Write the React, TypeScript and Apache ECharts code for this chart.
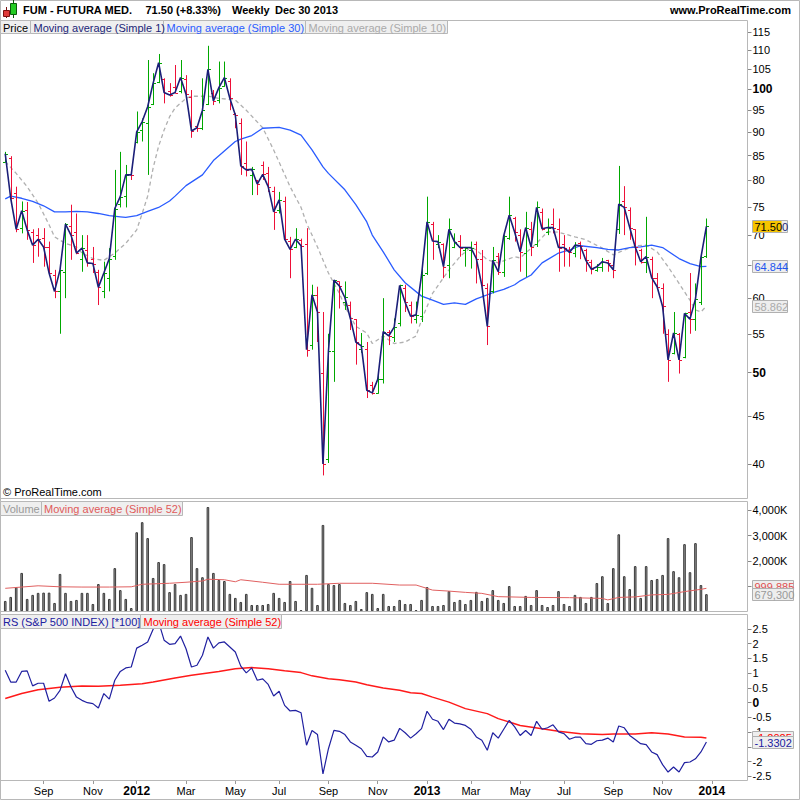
import React, { useEffect, useRef } from "react";
import * as echarts from "echarts";

const FONT = '"Liberation Sans", Arial, sans-serif';

// Weekly categories (Mondays) starting from the first visible bar
const FIRST_WEEK_UTC = Date.UTC(2011, 6, 18);
const WEEK_COUNT = 136;

const OPEN = [
  83.8, 84.5, 77.5, 71.2, 74.5, 70.5, 70.0, 69.5, 68.0, 63.5,
  61.0, 64.0, 71.5, 70.5, 66.0, 67.5, 66.0, 64.0, 61.0, 63.0,
  66.5, 75.5, 77.0, 81.3, 88.0, 90.5, 92.0, 96.5, 101.8, 102.5,
  99.5, 100.5, 99.5, 102.5, 98.0, 91.5, 91.0, 96.5, 99.0, 97.5,
  100.8, 102.0, 94.2, 92.0, 83.5, 81.0, 80.0, 83.0, 81.5, 78.0,
  74.5, 76.0, 69.0, 68.0, 69.2, 68.5, 53.5, 60.5, 50.0, 40.5,
  52.7, 62.5, 59.5, 59.0, 57.0, 53.0, 53.0, 48.5, 47.6, 49.2,
  55.2, 54.5, 56.5, 61.5, 59.0, 57.0, 57.5, 63.8, 72.0, 68.5,
  68.5, 65.0, 68.0, 69.0, 67.5, 67.5, 68.5, 66.0, 61.5, 61.0,
  66.5, 64.0, 69.5, 73.0, 70.0, 67.0, 71.0, 68.5, 74.0, 70.5,
  72.0, 71.0, 68.5, 67.5, 67.0, 68.6, 67.5, 65.5, 64.2, 64.8,
  65.8, 65.0, 71.0, 76.0, 74.5, 71.0, 67.5, 65.5, 66.0, 63.0,
  61.5, 55.0, 52.5, 55.0, 52.0, 58.0, 57.0, 59.5, 66.5,
];
const HIGH = [
  85.8, 84.9, 78.8, 76.0, 75.9, 71.0, 71.2, 71.2, 68.9, 64.3,
  64.3, 72.1, 75.4, 73.8, 70.0, 70.0, 68.0, 64.3, 65.6, 67.8,
  82.1, 85.8, 83.1, 81.7, 94.7, 93.1, 107.4, 104.0, 109.0, 102.7,
  101.5, 106.1, 107.4, 103.5, 99.8, 91.5, 102.7, 111.2, 99.8, 107.0,
  107.0, 102.7, 94.3, 93.1, 88.0, 82.7, 80.1, 83.8, 82.7, 78.8,
  77.8, 76.9, 69.7, 71.2, 69.4, 71.2, 62.0, 61.7, 58.0, 55.0,
  62.7, 62.5, 62.5, 59.5, 57.0, 55.1, 53.9, 48.9, 49.9, 60.0,
  55.5, 57.1, 62.0, 62.0, 59.5, 59.5, 65.3, 76.9, 72.3, 70.0,
  68.6, 72.9, 70.3, 70.0, 68.0, 68.9, 68.9, 67.5, 62.2, 68.0,
  67.0, 70.0, 76.9, 73.2, 71.0, 74.1, 72.3, 76.0, 74.7, 72.9,
  74.7, 72.9, 70.0, 68.0, 68.8, 68.9, 67.7, 65.9, 65.2, 66.2,
  65.9, 65.6, 82.9, 78.9, 74.9, 71.0, 67.7, 73.2, 66.4, 63.8,
  62.2, 55.6, 58.0, 55.1, 57.9, 63.8, 62.2, 66.6, 72.9,
];
const LOW = [
  83.6, 76.4, 70.5, 70.3, 69.2, 65.4, 66.4, 64.8, 63.5, 60.0,
  55.0, 60.0, 65.9, 66.8, 64.0, 64.8, 63.8, 59.0, 60.0, 61.0,
  65.9, 74.9, 74.9, 80.1, 87.6, 88.0, 81.1, 96.2, 101.5, 96.6,
  98.2, 99.0, 99.0, 97.8, 88.8, 90.1, 90.5, 96.2, 96.2, 96.6,
  100.6, 95.0, 90.9, 81.1, 80.8, 77.2, 77.2, 80.1, 77.8, 70.9,
  73.8, 68.9, 63.0, 67.8, 66.1, 52.0, 52.9, 53.9, 38.9, 40.1,
  48.9, 58.5, 58.3, 55.5, 51.0, 52.5, 47.0, 47.4, 47.5, 48.7,
  53.5, 53.9, 56.0, 58.0, 56.4, 56.4, 56.6, 63.5, 65.9, 67.8,
  63.0, 63.0, 67.8, 66.4, 64.8, 64.5, 62.2, 61.7, 53.5, 60.7,
  63.5, 63.2, 69.2, 68.9, 64.0, 63.2, 66.5, 68.0, 70.8, 70.0,
  70.3, 64.0, 64.8, 64.8, 66.3, 66.0, 64.0, 63.6, 64.0, 64.0,
  64.0, 63.0, 70.2, 70.0, 69.2, 65.0, 65.3, 63.8, 60.0, 61.5,
  55.0, 48.9, 52.3, 49.9, 51.8, 55.0, 55.4, 59.0, 66.2,
];
const CLOSE = [
  85.4, 76.6, 71.0, 74.3, 70.9, 68.3, 69.3, 68.0, 63.8, 61.0,
  64.3, 71.9, 70.0, 67.0, 67.8, 65.4, 65.3, 61.6, 63.8, 66.1,
  74.7, 76.9, 81.1, 81.1, 90.1, 92.4, 95.8, 101.5, 106.7, 99.2,
  98.6, 99.2, 102.9, 98.8, 90.3, 91.0, 95.0, 105.0, 97.2, 100.4,
  102.9, 97.8, 93.9, 82.9, 82.1, 82.2, 79.3, 81.2, 78.8, 74.1,
  76.3, 69.3, 67.6, 69.3, 68.2, 52.9, 60.5, 58.0, 40.0, 52.7,
  62.7, 61.8, 60.1, 57.1, 53.9, 53.4, 47.9, 47.6, 49.2, 55.3,
  54.7, 55.9, 61.9, 59.4, 57.4, 57.6, 63.5, 72.3, 69.0, 68.9,
  64.8, 71.0, 68.9, 67.9, 67.9, 67.9, 66.1, 61.9, 56.0, 65.8,
  64.0, 69.9, 73.5, 70.5, 67.2, 71.3, 68.0, 74.9, 71.1, 71.3,
  71.3, 67.9, 67.9, 67.1, 68.3, 68.2, 65.8, 64.4, 64.8, 65.6,
  65.4, 64.3, 75.5, 74.9, 71.3, 68.0, 65.6, 66.4, 63.1, 61.7,
  58.8, 51.6, 55.1, 51.6, 57.8, 57.0, 59.9, 66.3, 71.5,
];

// Moving averages: [week index, value]
const MA30 = [
  [0, 76.5], [1, 77.0], [3, 76.6], [5, 76.0], [7, 75.2], [9, 74.1], [11, 74.1], [13, 74.2],
  [15, 74.1], [17, 73.8], [19, 73.4], [21, 73.2], [22, 73.1], [24, 73.4], [26, 74.2], [28, 74.9],
  [30, 76.1], [31, 77.0], [33, 79.0], [36, 81.1], [38, 84.0], [40, 86.0], [42, 88.0], [43, 88.5],
  [45, 89.3], [47, 90.9], [50, 91.1], [52, 90.5], [54, 89.4], [56, 86.2], [58, 82.7], [59, 81.4],
  [62, 78.2], [64, 75.4], [66, 72.3], [67, 70.0], [69, 67.2], [71, 64.3], [73, 62.3], [76, 60.3],
  [78, 59.7], [80, 59.1], [82, 59.3], [84, 59.1], [86, 59.9], [87, 60.2], [89, 60.8], [91, 61.3],
  [93, 62.0], [94, 62.6], [96, 63.5], [98, 65.4], [101, 67.0], [103, 67.5], [105, 68.2], [108, 67.9],
  [110, 67.6], [112, 67.5], [114, 67.9], [116, 68.0], [118, 68.3], [120, 67.9], [123, 66.1], [125, 65.3],
  [127, 64.8], [128, 64.844],
];
const MA10 = [
  [0, 83.8], [2, 81.4], [4, 78.8], [6, 75.7], [8, 71.8], [9, 69.7], [11, 68.6], [13, 68.0],
  [14, 67.0], [16, 66.1], [18, 65.8], [20, 67.0], [22, 68.6], [24, 70.9], [25, 73.8], [26, 77.0],
  [27, 82.5], [28, 87.0], [29, 90.5], [30, 93.5], [31, 95.5], [33, 97.8], [34, 98.3], [37, 98.3],
  [39, 97.8], [42, 97.4], [44, 95.0], [47, 91.0], [49, 86.2], [52, 78.8], [54, 74.9], [55, 72.1],
  [57, 68.0], [59, 63.8], [61, 60.7], [62, 58.8], [64, 56.0], [66, 55.1], [67, 53.7], [69, 54.7],
  [71, 53.7], [73, 53.9], [75, 54.7], [76, 56.9], [78, 60.7], [81, 64.3], [83, 66.4], [85, 68.0],
  [86, 67.5], [88, 65.9], [90, 65.4], [93, 66.4], [94, 66.2], [97, 68.6], [99, 70.6], [101, 70.5],
  [104, 69.7], [106, 69.2], [109, 67.8], [111, 66.7], [113, 67.5], [115, 68.2], [117, 68.3], [119, 67.2],
  [121, 64.8], [123, 62.2], [125, 59.7], [126, 58.3], [127, 58.0], [128, 58.862],
];

// Volume in thousands
const VOLUME_K = [
  410, 570, 960, 1520, 490, 650, 730, 740, 740, 330,
  1480, 730, 410, 450, 730, 730, 290, 1080, 730, 490,
  1710, 840, 490, 130, 3130, 3530, 2900, 1320, 1950, 1870,
  760, 1080, 650, 690, 2940, 1710, 1350, 4130, 1520, 1240,
  1200, 690, 530, 370, 690, 250, 250, 250, 290, 730,
  530, 370, 1200, 410, 50, 1440, 930, 250, 3420, 1080,
  1040, 1080, 330, 250, 410, 90, 760, 690, 130, 690,
  210, 210, 450, 290, 290, 50, 450, 960, 210, 210,
  250, 800, 370, 450, 290, 450, 770, 410, 530, 840,
  450, 330, 1000, 210, 210, 610, 250, 840, 250, 170,
  250, 800, 290, 210, 650, 570, 330, 570, 1120, 1390,
  330, 1710, 3050, 1390, 880, 1790, 530, 1790, 1240, 1280,
  1440, 2900, 1590, 1350, 2660, 1550, 2700, 1040, 679.3,
];
const VOLUME_MA52_K = [
  [0, 910], [6, 1010], [10, 970], [14, 960], [19, 960], [23, 970], [25, 1070], [30, 1110],
  [33, 1150], [36, 1200], [37, 1270], [40, 1250], [42, 1170], [43, 1250], [47, 1150], [50, 1070],
  [54, 1070], [57, 1070], [61, 1110], [67, 1110], [72, 1040], [75, 1040], [78, 840], [81, 800],
  [84, 750], [87, 710], [90, 580], [96, 550], [103, 540], [109, 510], [110, 450], [112, 550],
  [115, 570], [118, 650], [121, 670], [124, 780], [127, 870], [128, 910],
];

// Relative strength vs S&P 500 (*100)
const RS = [
  1.10, 0.70, 0.70, 1.06, 1.08, 0.57, 0.66, 0.66, 0.05, 0.16,
  0.42, 0.98, 0.53, 0.19, 0.08, 0.00, -0.03, -0.18, 0.31, 0.12,
  0.76, 1.06, 1.18, 1.21, 1.85, 1.95, 2.06, 2.49, 2.74, 2.12,
  1.98, 2.00, 2.26, 1.83, 1.21, 1.27, 1.61, 2.23, 1.85, 2.03,
  2.06, 1.89, 1.72, 1.24, 1.01, 1.18, 0.76, 0.81, 0.62, 0.23,
  0.39, -0.09, -0.28, -0.26, -0.34, -1.44, -0.94, -1.08, -2.41, -1.56,
  -0.94, -0.97, -1.08, -1.33, -1.44, -1.56, -1.82, -1.84, -1.67, -1.16,
  -1.33, -1.27, -0.87, -1.02, -1.20, -1.05, -0.88, -0.29, -0.56, -0.63,
  -0.91, -0.56, -0.69, -0.72, -0.77, -0.90, -1.16, -1.27, -1.61, -1.02,
  -1.20, -0.90, -0.60, -0.82, -1.11, -0.94, -1.11, -0.63, -0.90, -0.85,
  -0.75, -0.99, -1.05, -1.24, -1.17, -1.17, -1.39, -1.41, -1.29, -1.27,
  -1.20, -1.33, -0.79, -0.85, -1.11, -1.25, -1.39, -1.42, -1.67, -1.76,
  -2.10, -2.35, -2.18, -2.35, -2.03, -2.01, -1.90, -1.67, -1.3302,
];
const RS_MA52 = [
  [0, 0.14], [3, 0.31], [6, 0.44], [10, 0.52], [14, 0.57], [17, 0.56], [21, 0.59], [25, 0.64],
  [27, 0.70], [31, 0.84], [34, 0.93], [37, 1.01], [39, 1.06], [42, 1.15], [45, 1.19], [48, 1.15],
  [51, 1.08], [54, 1.02], [56, 0.91], [59, 0.81], [61, 0.78], [64, 0.70], [66, 0.61], [69, 0.50],
  [72, 0.42], [74, 0.34], [76, 0.31], [78, 0.19], [81, 0.02], [84, -0.20], [88, -0.37], [90, -0.54],
  [94, -0.77], [98, -0.88], [101, -0.97], [105, -1.05], [109, -1.08], [111, -1.06], [115, -1.06], [118, -1.02],
  [121, -1.06], [124, -1.16], [127, -1.17], [128, -1.20],
];

// Tick marks and the labels that are not hidden behind value tags
const PRICE_TICKS = [40, 45, 50, 55, 60, 65, 70, 75, 80, 85, 90, 95, 100, 105, 110, 115];
const PRICE_LABELS = [40, 45, 50, 55, 60, 70, 75, 80, 85, 90, 95, 100, 105, 110, 115];
const VOLUME_TICKS_K = [1000, 2000, 3000, 4000];
const VOLUME_LABELS_K = [2000, 3000, 4000];
const RS_TICKS = [-2.5, -2, -1.5, -1, -0.5, 0, 0.5, 1, 1.5, 2, 2.5];
const RS_LABELS = [-2.5, -2, -1, -0.5, 0, 0.5, 1, 1.5, 2, 2.5];
const MONTHS = ["Jan", "Feb", "Mar", "Apr", "May", "Jun", "Jul", "Aug", "Sep", "Oct", "Nov", "Dec"];

const TAGS = {
  close: { value: 71.5, text: "71.50", tail: "0" },
  ma30: { value: 64.844, text: "64.844" },
  ma10: { value: 58.862, text: "58.862" },
  volMa: { value: 999.885, text: "999,885" },
  vol: { value: 679.3, text: "679,300" },
  rsMa: { value: -1.2025, text: "-1.2025" },
  rs: { value: -1.3302, text: "-1.3302" },
};

const GREEN = "#00a800";
const RED = "#ee1038";
const NAVY = "#1b1f78";
const BLUE = "#2a5cff";
const BORDER = "#b8b8b8";

const PRICE_MIN = 36.81;
const PRICE_MAX = 118.44;

function buildWeeks(): string[] {
  const out: string[] = [];
  for (let i = 0; i < WEEK_COUNT; i++) {
    const d = new Date(FIRST_WEEK_UTC + i * 7 * 86400000);
    out.push(d.toISOString().slice(0, 10));
  }
  return out;
}

function isLabelWeek(value: string): boolean {
  const m = parseInt(value.slice(5, 7), 10);
  const d = parseInt(value.slice(8, 10), 10);
  return d <= 7 && m % 2 === 1;
}

export default function App() {
  const ref = useRef<HTMLDivElement>(null);

  useEffect(() => {
    if (!ref.current) return;
    const chart = echarts.init(ref.current, undefined, { renderer: "svg" });
    const weeks = buildWeeks();
    const ln = Math.log;

    const txt = (text: string, x: number, y: number, fill: string, font: string, align = "left", z = 100) => ({
      type: "text",
      z,
      style: { text, x, y, fill, font, textAlign: align, textVerticalAlign: "middle" },
    });
    const box = (x: number, y: number, w: number, h: number, fill = "#efefef", stroke = BORDER, z = 99) => ({
      type: "rect",
      z,
      shape: { x, y, width: w, height: h },
      style: { fill, stroke, lineWidth: 1 },
    });
    const f11 = `11px ${FONT}`;
    const b11 = `bold 11px ${FONT}`;

    const staticGraphics: any[] = [
      // frames
      { type: "rect", z: 98, shape: { x: 0.5, y: 0.5, width: 799, height: 799 }, style: { fill: "none", stroke: BORDER } },
      { type: "rect", z: 98, shape: { x: 0.5, y: 20.5, width: 747, height: 478 }, style: { fill: "none", stroke: BORDER } },
      { type: "rect", z: 98, shape: { x: 0.5, y: 501.5, width: 747, height: 110 }, style: { fill: "none", stroke: BORDER } },
      { type: "rect", z: 98, shape: { x: 0.5, y: 614.5, width: 747, height: 166 }, style: { fill: "none", stroke: BORDER } },
      // header icon
      { type: "line", z: 100, shape: { x1: 6.5, y1: 7, x2: 6.5, y2: 18 }, style: { stroke: "#7a1010", lineWidth: 1 } },
      { type: "rect", z: 101, shape: { x: 3.5, y: 10.5, width: 6, height: 6 }, style: { fill: "#e03a3a", stroke: "#7a1010" } },
      { type: "line", z: 100, shape: { x1: 13.5, y1: 0, x2: 13.5, y2: 18 }, style: { stroke: "#0a5a0a", lineWidth: 1 } },
      { type: "rect", z: 101, shape: { x: 10.5, y: 3.5, width: 6, height: 11 }, style: { fill: "#22cc22", stroke: "#0a5a0a" } },
      // header texts
      txt("FUM - FUTURA MED.", 23, 10, "#000", b11),
      txt("71.50 (+8.33%)", 145.5, 10, "#000", b11),
      txt("Weekly", 232, 10, "#000", b11),
      txt("Dec 30 2013", 275, 10, "#000", b11),
      txt("www.ProRealTime.com", 791, 10, "#000", b11, "right"),
      // price legend
      box(0.5, 20.5, 30, 13), txt("Price", 3, 27.5, "#000", f11),
      box(30.5, 20.5, 133, 13), txt("Moving average (Simple 1)", 33.5, 27.5, NAVY, f11),
      box(163.5, 20.5, 142, 13), txt("Moving average (Simple 30)", 166.5, 27.5, BLUE, f11),
      box(305.5, 20.5, 142, 13), txt("Moving average (Simple 10)", 308.5, 27.5, "#aaaaaa", f11),
      // copyright
      txt("© ProRealTime.com", 3, 492, "#000", f11),
      // volume legend
      box(0.5, 501.5, 41, 14), txt("Volume", 3, 508.5, "#999", f11),
      box(41.5, 501.5, 141, 14), txt("Moving average (Simple 52)", 44, 508.5, "#e05a5a", f11),
      // RS legend
      box(0.5, 614.5, 140, 14), txt("RS (S&P 500 INDEX) [*100]", 3, 621.5, "#2020a0", f11),
      box(140.5, 614.5, 141, 14), txt("Moving average (Simple 52)", 143.5, 621.5, "#ff0000", f11),
    ];

    const ohlcData = OPEN.map((o, i) => [i, ln(o), ln(HIGH[i]), ln(LOW[i]), ln(CLOSE[i])]);

    const xAxisBase = (gridIndex: number, show: boolean) => ({
      type: "category",
      gridIndex,
      data: weeks,
      boundaryGap: true,
      position: "bottom",
      axisLine: { show: false, onZero: false },
      splitLine: { show: false },
      axisTick: show
        ? { show: true, interval: (_i: number, v: string) => isLabelWeek(v), alignWithLabel: true, length: 4, lineStyle: { color: "#999" } }
        : { show: false },
      axisLabel: show
        ? {
            show: true,
            interval: (_i: number, v: string) => isLabelWeek(v),
            margin: 5,
            color: "#000",
            fontSize: 11,
            fontFamily: FONT,
            formatter: (v: string) => {
              const m = parseInt(v.slice(5, 7), 10);
              return m === 1 ? `{y|${v.slice(0, 4)}}` : MONTHS[m - 1];
            },
            rich: { y: { fontWeight: "bold", fontSize: 12, color: "#000", fontFamily: FONT } },
          }
        : { show: false },
    });

    const yAxisBase = (
      gridIndex: number,
      min: number,
      max: number,
      ticks: number[],
      labels: number[],
      formatter: (v: number) => string,
      rich: any
    ) => ({
      type: "value",
      gridIndex,
      position: "right",
      min,
      max,
      splitLine: { show: false },
      axisLine: { show: false },
      axisTick: { show: true, customValues: ticks, length: 4, lineStyle: { color: "#888" } },
      axisLabel: {
        customValues: labels,
        margin: 5,
        color: "#000",
        fontSize: 11,
        fontFamily: FONT,
        formatter,
        rich,
      },
    });

    const boldRich = { b: { fontWeight: "bold", fontSize: 12, color: "#000", fontFamily: FONT } };

    const option: any = {
      animation: false,
      backgroundColor: "#fff",
      grid: [
        { left: 2.5, right: 52.5, top: 20, height: 478, outerBoundsMode: "none" },
        { left: 2.5, right: 52.5, top: 501, height: 110.3, outerBoundsMode: "none" },
        { left: 2.5, right: 52.5, top: 614, height: 166, outerBoundsMode: "none" },
      ],
      xAxis: [xAxisBase(0, false), xAxisBase(1, false), xAxisBase(2, true)],
      yAxis: [
        yAxisBase(
          0,
          ln(PRICE_MIN),
          ln(PRICE_MAX),
          PRICE_TICKS.map((t) => ln(t)),
          PRICE_LABELS.map((t) => ln(t)),
          (v: number) => {
            const p = Math.round(Math.exp(v));
            return p === 50 || p === 100 ? `{b|${p}}` : `${p}`;
          },
          boldRich
        ),
        yAxisBase(
          1,
          0,
          4368,
          VOLUME_TICKS_K,
          VOLUME_LABELS_K,
          (v: number) => `${Math.round(v / 1000)},${String(Math.round(v % 1000)).padStart(3, "0")}K`,
          boldRich
        ),
        yAxisBase(
          2,
          -2.62,
          3.007,
          RS_TICKS,
          RS_LABELS,
          (v: number) => (Math.abs(v) < 1e-9 ? "{b|0}" : `${Math.round(v * 10) / 10}`),
          boldRich
        ),
      ],
      series: [
        {
          type: "line",
          name: "MA10",
          xAxisIndex: 0,
          yAxisIndex: 0,
          data: MA10.map(([i, v]) => [i, ln(v)]),
          symbol: "none",
          silent: true,
          z: 2,
          lineStyle: { color: "#b0b0b0", width: 1.3, type: [4, 3] },
        },
        {
          type: "line",
          name: "MA30",
          xAxisIndex: 0,
          yAxisIndex: 0,
          data: MA30.map(([i, v]) => [i, ln(v)]),
          symbol: "none",
          silent: true,
          z: 3,
          lineStyle: { color: BLUE, width: 1.3 },
        },
        {
          type: "custom",
          name: "Price",
          xAxisIndex: 0,
          yAxisIndex: 0,
          data: ohlcData,
          encode: { x: 0, y: [1, 2, 3, 4] },
          silent: true,
          z: 4,
          renderItem: (_params: any, api: any) => {
            const i = api.value(0);
            const o = api.value(1);
            const h = api.value(2);
            const l = api.value(3);
            const c = api.value(4);
            const ph = api.coord([i, h]);
            const pl = api.coord([i, l]);
            const po = api.coord([i, o]);
            const pc = api.coord([i, c]);
            const x = Math.round(ph[0]) + 0.5;
            const yo = Math.round(po[1]) + 0.5;
            const yc = Math.round(pc[1]) + 0.5;
            const style = { stroke: c >= o ? GREEN : RED, lineWidth: 1 };
            return {
              type: "group",
              children: [
                { type: "line", shape: { x1: x, y1: ph[1], x2: x, y2: pl[1] }, style },
                { type: "line", shape: { x1: x - 2.5, y1: yo, x2: x, y2: yo }, style },
                { type: "line", shape: { x1: x, y1: yc, x2: x + 2.5, y2: yc }, style },
              ],
            };
          },
        },
        {
          type: "line",
          name: "Close",
          xAxisIndex: 0,
          yAxisIndex: 0,
          data: CLOSE.map((v, i) => [i, ln(v)]),
          symbol: "none",
          silent: true,
          z: 5,
          lineStyle: { color: NAVY, width: 1.6 },
        },
        {
          type: "bar",
          name: "Volume",
          xAxisIndex: 1,
          yAxisIndex: 1,
          data: VOLUME_K,
          barWidth: 2.6,
          silent: true,
          itemStyle: { color: "#9a9a9a", borderColor: "#3a3a3a", borderWidth: 1 },
        },
        {
          type: "line",
          name: "VolMA",
          xAxisIndex: 1,
          yAxisIndex: 1,
          data: VOLUME_MA52_K,
          symbol: "none",
          silent: true,
          z: 5,
          lineStyle: { color: "#e06060", width: 1 },
        },
        {
          type: "line",
          name: "RSMA",
          xAxisIndex: 2,
          yAxisIndex: 2,
          data: RS_MA52,
          symbol: "none",
          silent: true,
          lineStyle: { color: "#ff1a1a", width: 1.5 },
        },
        {
          type: "line",
          name: "RS",
          xAxisIndex: 2,
          yAxisIndex: 2,
          data: RS.map((v, i) => [i, v]),
          symbol: "none",
          silent: true,
          lineStyle: { color: "#2020a0", width: 1.2 },
        },
      ],
      graphic: staticGraphics,
    };

    chart.setOption(option);

    const py = (axis: number, v: number) => chart.convertToPixel({ yAxisIndex: axis } as any, v) as unknown as number;
    const tag = (y: number, w: number, text: string, color: string, z: number) => [
      box(752.5, Math.round(y - 6) + 0.5, w, 12, "#eeeeee", "#b0b0b0", z),
      txt(text, 754.5, Math.round(y) + 0.5, color, f11, "left", z + 1),
    ];
    const yClose = py(0, ln(TAGS.close.value));
    const yVol = py(1, TAGS.vol.value);
    const yVolMa = Math.min(py(1, TAGS.volMa.value), yVol - 5);
    const yRs = py(2, TAGS.rs.value);
    const yRsMa = Math.min(py(2, TAGS.rsMa.value), yRs - 5);
    const tags: any[] = [
      box(752.5, Math.round(yClose - 6) + 0.5, 35, 12, "#eeeeee", "#b0b0b0", 102),
      { type: "rect", z: 103, shape: { x: 753, y: Math.round(yClose - 6) + 1, width: 28.5, height: 11 }, style: { fill: "#f6c400" } },
      txt(TAGS.close.text, 754.5, Math.round(yClose) + 0.5, "#000", f11, "left", 104),
      txt(TAGS.close.tail, 782, Math.round(yClose) + 0.5, NAVY, f11, "left", 104),
      ...tag(py(0, ln(TAGS.ma30.value)), 35, TAGS.ma30.text, "#2255ee", 102),
      ...tag(py(0, ln(TAGS.ma10.value)), 35, TAGS.ma10.text, "#aaaaaa", 102),
      ...tag(yVolMa, 41, TAGS.volMa.text, "#e05050", 102),
      ...tag(yVol, 41, TAGS.vol.text, "#999999", 104),
      ...tag(yRsMa, 41, TAGS.rsMa.text, "#ff0000", 102),
      ...tag(yRs, 41, TAGS.rs.text, "#2020a0", 104),
    ];
    chart.setOption({ graphic: staticGraphics.concat(tags) });

    return () => chart.dispose();
  }, []);

  return (
    <div
      ref={ref}
      style={{ position: "fixed", left: 0, top: 0, width: 800, height: 800, background: "#fff" }}
    />
  );
}
